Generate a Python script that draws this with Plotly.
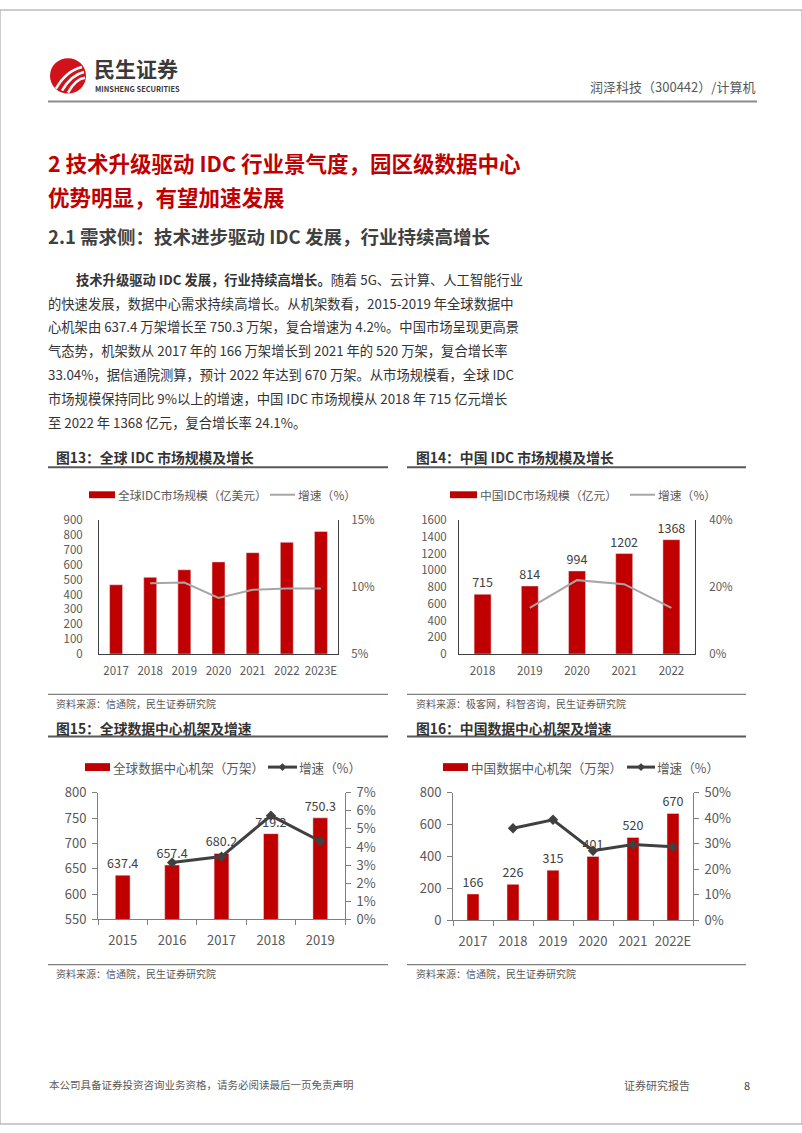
import plotly.graph_objects as go

W, H = 802, 1133
FONT = "Noto Sans CJK SC, Noto Sans, sans-serif"
RED = "#C00000"

# ---------------- data ----------------
g_years = ['2017', '2018', '2019', '2020', '2021', '2022', '2023E']
g_idc = [466, 516, 567, 620, 682, 752, 825]
g_idc_growth = [None, 10.3, 10.35, 9.2, 9.8, 9.9, 9.9]

c_years = ['2018', '2019', '2020', '2021', '2022']
c_idc = [715, 814, 994, 1202, 1368]
c_idc_growth = [None, 13.8, 22.1, 20.9, 13.8]

gr_years = ['2015', '2016', '2017', '2018', '2019']
gr_racks = [637.4, 657.4, 680.2, 719.2, 750.3]
gr_growth = [None, 3.14, 3.47, 5.73, 4.32]

cr_years = ['2017', '2018', '2019', '2020', '2021', '2022E']
cr_racks = [166, 226, 315, 401, 520, 670]
cr_growth = [None, 36.1, 39.4, 27.3, 29.7, 28.8]


def px(x):
    return x / W


def py(y):
    return 1 - y / H


fig = go.Figure()

LBL = dict(size=12.5, color='#404040', family=FONT)

# ---------------- traces ----------------
fig.add_trace(go.Bar(x=g_years, y=g_idc, marker_color=RED, width=0.38,
                     xaxis='x', yaxis='y', showlegend=False))
fig.add_trace(go.Scatter(x=g_years, y=g_idc_growth, mode='lines',
                         line=dict(color='#A6A6A6', width=2),
                         xaxis='x', yaxis='y2', showlegend=False))

fig.add_trace(go.Bar(x=c_years, y=c_idc, marker_color=RED, width=0.36,
                     text=[str(v) for v in c_idc], textposition='outside',
                     constraintext='none', textfont=LBL,
                     cliponaxis=False, xaxis='x2', yaxis='y3', showlegend=False))
fig.add_trace(go.Scatter(x=c_years, y=c_idc_growth, mode='lines',
                         line=dict(color='#A6A6A6', width=2),
                         xaxis='x2', yaxis='y4', showlegend=False))

fig.add_trace(go.Bar(x=gr_years, y=gr_racks, marker_color=RED, width=0.3,
                     text=[f"{v:.1f}" for v in gr_racks], textposition='outside',
                     constraintext='none', textfont=LBL,
                     cliponaxis=False, xaxis='x3', yaxis='y5', showlegend=False))
fig.add_trace(go.Scatter(x=gr_years, y=gr_growth, mode='lines+markers',
                         line=dict(color='#404040', width=3),
                         marker=dict(symbol='diamond', size=8, color='#404040'),
                         xaxis='x3', yaxis='y6', showlegend=False))

fig.add_trace(go.Bar(x=cr_years, y=cr_racks, marker_color=RED, width=0.3,
                     text=[str(v) for v in cr_racks], textposition='outside',
                     constraintext='none', textfont=LBL,
                     cliponaxis=False, xaxis='x4', yaxis='y7', showlegend=False))
fig.add_trace(go.Scatter(x=cr_years, y=cr_growth, mode='lines+markers',
                         line=dict(color='#404040', width=3),
                         marker=dict(symbol='diamond', size=8, color='#404040'),
                         xaxis='x4', yaxis='y8', showlegend=False))

# ---------------- axes ----------------
TICKC = '#595959'


def xaxis(d0, d1, anchor, fs, ticks=False, lc='#404040'):
    a = dict(domain=[px(d0), px(d1)], anchor=anchor, type='category',
             showline=True, linecolor=lc, linewidth=1, showgrid=False, tickangle=0,
             tickfont=dict(size=fs, color=TICKC, family=FONT), fixedrange=True)
    if ticks:
        a.update(ticks='outside', tickson='boundaries', ticklen=5, tickcolor=lc,
                 ticklabelstandoff=9)
    else:
        a.update(ticks='outside', ticklen=6, tickcolor='rgba(0,0,0,0)')
    return a


def yaxis(y0, y1, anchor, rng, dtick, fs, side='left', overlay=None, suffix='',
          ticks=False, lc='#404040', standoff=12):
    a = dict(domain=[py(y1), py(y0)], anchor=anchor, range=rng, dtick=dtick,
             side=side, showline=True, linecolor=lc, linewidth=1, showgrid=False,
             zeroline=False, ticksuffix=suffix,
             tickfont=dict(size=fs, color=TICKC, family=FONT), fixedrange=True)
    if overlay:
        a['overlaying'] = overlay
    if ticks:
        a.update(ticks='outside', ticklen=5, tickcolor=lc, ticklabelstandoff=3)
    else:
        a.update(ticks='outside', ticklen=standoff, tickcolor='rgba(0,0,0,0)')
    return a


fig.update_layout(
    xaxis=xaxis(99, 338, 'y', 11.5),
    yaxis=yaxis(519, 655, 'x', [0, 900], 100, 11.5, standoff=13),
    yaxis2=yaxis(519, 655, 'x', [5, 15], 5, 11.5, side='right', overlay='y',
                 suffix='%', standoff=10),
    xaxis2=xaxis(459, 695, 'y3', 11.5),
    yaxis3=yaxis(519, 655, 'x2', [0, 1600], 200, 11.5, standoff=9),
    yaxis4=yaxis(519, 655, 'x2', [0, 40], 20, 11.5, side='right', overlay='y3',
                 suffix='%', standoff=11),
    xaxis3=xaxis(98, 345, 'y5', 13, ticks=True, lc='#7F7F7F'),
    yaxis5=yaxis(796, 925, 'x3', [550, 800], 50, 13, ticks=True, lc='#7F7F7F'),
    yaxis6=yaxis(796, 925, 'x3', [0, 7], 1, 13, side='right', overlay='y5',
                 suffix='%', ticks=True, lc='#7F7F7F'),
    xaxis4=xaxis(453, 693, 'y7', 13, ticks=True, lc='#7F7F7F'),
    yaxis7=yaxis(796, 926, 'x4', [0, 800], 200, 13, ticks=True, lc='#7F7F7F'),
    yaxis8=yaxis(796, 926, 'x4', [0, 50], 10, 13, side='right', overlay='y7',
                 suffix='%', ticks=True, lc='#7F7F7F'),
)

# ---------------- page text ----------------
anns = []
shapes = []


def ann(text, x, y, size, color='#404040', xanchor='left', yanchor='middle'):
    anns.append(dict(text=text, x=px(x), y=py(y), xref='paper', yref='paper',
                     xanchor=xanchor, yanchor=yanchor, showarrow=False,
                     font=dict(size=size, color=color, family=FONT)))


def hline(x0, x1, y, color, width):
    shapes.append(dict(type='line', xref='paper', yref='paper',
                       x0=px(x0), x1=px(x1), y0=py(y), y1=py(y),
                       line=dict(color=color, width=width)))


# page border
shapes.append(dict(type='rect', xref='paper', yref='paper', x0=0, x1=1, y0=0, y1=1,
                   line=dict(color='#9A9A9A', width=1)))

# logo
shapes.append(dict(type='circle', xref='paper', yref='paper',
                   x0=px(50), x1=px(86), y0=py(85), y1=py(49),
                   fillcolor='#D0121B', line=dict(width=0)))
for (ax, ay, bx, by, cx, cy) in [(56, 80, 66, 62, 82, 58), (62, 82, 71, 66, 84, 63),
                                 (68, 84, 76, 70, 85, 69)]:
    shapes.append(dict(type='path', xref='paper', yref='paper',
                       path=f"M {px(ax)} {py(ay)} Q {px(bx)} {py(by)} {px(cx)} {py(cy)}",
                       line=dict(color='white', width=2.5)))
ann('<b>民生证券</b>', 92, 59, 21, '#3A3A3A')
ann('<b>MINSHENG SECURITIES</b>', 93, 80, 7.4, '#3A3A3A')
ann('润泽科技（300442）/计算机', 757, 78, 13, '#595959', xanchor='right')
hline(48, 757, 93, '#8C8C8C', 2)

ann('<b>2 技术升级驱动 IDC 行业景气度，园区级数据中心</b>', 46, 155, 21.5, RED)
ann('<b>优势明显，有望加速发展</b>', 46, 190, 21.5, RED)
ann('<b>2.1 需求侧：技术进步驱动 IDC 发展，行业持续高增长</b>', 46, 230, 18.5, '#404040')

body = [
    '<b>技术升级驱动 IDC 发展，行业持续高增长。</b>随着 5G、云计算、人工智能行业',
    '的快速发展，数据中心需求持续高增长。从机架数看，2015-2019 年全球数据中',
    '心机架由 637.4 万架增长至 750.3 万架，复合增速为 4.2%。中国市场呈现更高景',
    '气态势，机架数从 2017 年的 166 万架增长到 2021 年的 520 万架，复合增长率',
    '33.04%，据信通院测算，预计 2022 年达到 670 万架。从市场规模看，全球 IDC',
    '市场规模保持同比 9%以上的增速，中国 IDC 市场规模从 2018 年 715 亿元增长',
    '至 2022 年 1368 亿元，复合增长率 24.1%。',
]
for i, line in enumerate(body):
    ann(line, 74 if i == 0 else 46, 274 + i * 24.2, 13.3, '#333333')

# chart titles and rules
ann('<b>图13：全球 IDC 市场规模及增长</b>', 54, 455, 13.8, '#333333')
ann('<b>图14：中国 IDC 市场规模及增长</b>', 414, 455, 13.8, '#333333')
hline(48, 388, 465, '#595959', 2)
hline(407, 746, 465, '#595959', 2)
hline(48, 388, 696, '#7F7F7F', 1.2)
hline(407, 746, 696, '#7F7F7F', 1.2)
ann('资料来源：信通院，民生证券研究院', 54, 705, 10, '#595959')
ann('资料来源：极客网，科智咨询，民生证券研究院', 414, 705, 10, '#595959')

ann('<b>图15：全球数据中心机架及增速</b>', 54, 730, 13.8, '#333333')
ann('<b>图16：中国数据中心机架及增速</b>', 414, 730, 13.8, '#333333')
hline(48, 388, 739, '#595959', 2)
hline(407, 746, 739, '#595959', 2)
hline(48, 388, 971, '#7F7F7F', 1.2)
hline(407, 746, 971, '#7F7F7F', 1.2)
ann('资料来源：信通院，民生证券研究院', 54, 980, 10, '#595959')
ann('资料来源：信通院，民生证券研究院', 414, 980, 10, '#595959')


# legends (drawn)
def leg_rect(x0, x1, y, h):
    shapes.append(dict(type='rect', xref='paper', yref='paper',
                       x0=px(x0), x1=px(x1), y0=py(y + h / 2), y1=py(y - h / 2),
                       fillcolor=RED, line=dict(width=0)))


def leg_line(x0, x1, y, color, width, marker=False):
    hline(x0, x1, y, color, width)
    if marker:
        cx = (x0 + x1) / 2
        shapes.append(dict(type='path', xref='paper', yref='paper',
                           path=f"M {px(cx-4)} {py(y)} L {px(cx)} {py(y-4)} L {px(cx+4)} {py(y)} L {px(cx)} {py(y+4)} Z",
                           fillcolor=color, line=dict(width=0)))


leg_rect(89, 115, 493, 7)
ann('全球IDC市场规模（亿美元）', 116, 493, 11.8, '#595959')
leg_line(270, 295, 493, '#A6A6A6', 2)
ann('增速（%）', 296, 493, 11.8, '#595959')

leg_rect(450, 477, 493, 7)
ann('中国IDC市场规模（亿元）', 478, 493, 11.8, '#595959')
leg_line(630, 655, 493, '#A6A6A6', 2)
ann('增速（%）', 656, 493, 11.8, '#595959')

leg_rect(85, 110, 770, 8)
ann('全球数据中心机架（万架）', 111, 770, 12.6, '#595959')
leg_line(268, 297, 770, '#404040', 3, marker=True)
ann('增速（%）', 297, 770, 12.6, '#595959')

leg_rect(443, 468, 770, 8)
ann('中国数据中心机架（万架）', 469, 770, 12.6, '#595959')
leg_line(627, 655, 770, '#404040', 3, marker=True)
ann('增速（%）', 655, 770, 12.6, '#595959')

# footer
ann('本公司具备证券投资咨询业务资格，请务必阅读最后一页免责声明', 47, 1093, 10.5, '#595959')
ann('证券研究报告', 622, 1093, 11, '#595959')
ann('8', 742, 1093, 11, '#404040')

fig.update_layout(
    width=W, height=H, autosize=False,
    margin=dict(l=0, r=0, t=0, b=0),
    paper_bgcolor='white', plot_bgcolor='white',
    font=dict(family=FONT),
    showlegend=False,
    annotations=anns, shapes=shapes,
)

fig.write_html("out.html")
